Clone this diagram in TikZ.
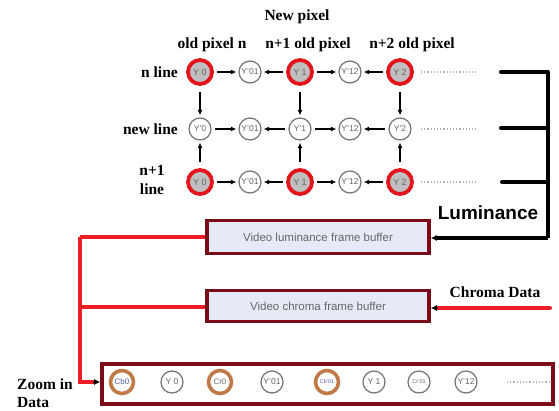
\documentclass[tikz,border=0pt]{standalone}
\usepackage{fontspec}
\setmainfont{Liberation Serif}
\setsansfont{Liberation Sans}
\usetikzlibrary{arrows.meta}
\definecolor{ringred}{HTML}{E3141B}
\definecolor{boxred}{HTML}{7A0C1A}
\definecolor{boxfill}{HTML}{E6EAF6}
\definecolor{ringbrown}{HTML}{C07A48}
\definecolor{wirered}{HTML}{EE1C24}
\begin{document}
\begin{tikzpicture}[x=1pt,y=-1pt,
  redc/.style={circle,minimum size=24pt,inner sep=0pt,draw=ringred,line width=3.8pt,fill=gray!50,text=gray!80!black,font=\sffamily\fontsize{9}{10}\selectfont},
  plainc/.style={circle,minimum size=22pt,inner sep=0pt,draw=gray!90!black,line width=1.2pt,fill=white,text=gray!80!black,font=\sffamily\fontsize{8.5}{9}\selectfont},
  brownc/.style={circle,minimum size=23pt,inner sep=0pt,draw=ringbrown,line width=3.6pt,fill=white,text=gray!70!blue,font=\sffamily\fontsize{8}{9}\selectfont},
  tinyc/.style={font=\sffamily\fontsize{5.5}{6}\selectfont},
  lab/.style={font=\bfseries\fontsize{15.5}{17}\selectfont,inner sep=0pt},
  buf/.style={draw=boxred,line width=3.6pt,fill=boxfill,minimum width=222pt,minimum height=33pt,inner sep=0pt,font=\sffamily\fontsize{11.5}{13}\selectfont,text=gray!80!black},
  garr/.style={draw=gray!65!black,line width=1.2pt,-{Latex[length=5.5pt,width=5pt]},color=black,shorten >=2pt,shorten <=3pt},
  dots/.style={draw=gray!60,line width=1.2pt,dotted},
  bk/.style={draw=black,line width=4pt},
  rw/.style={draw=wirered,line width=3.2pt}
]
\useasboundingbox (0,0) rectangle (559,410);

% labels
\node[lab] (np) at (297,17) {New pixel};
\node[lab] (op0) at (212,45) {old pixel n};
\node[lab] (op1) at (308,45) {n+1 old pixel};
\node[lab] (op2) at (412,45) {n+2 old pixel};
\node[lab,anchor=east] (l1) at (178,72) {n line};
\node[lab,anchor=east] (l2) at (178,129) {new line};
\node[lab,align=center,font=\bfseries\fontsize{15.5}{19}\selectfont] (l3) at (152,180) {n+1\\line};

% grid
\foreach \r/\y in {a/72,c/182} {
  \node[redc] (\r0) at (200,\y) {Y 0};
  \node[plainc] (\r1) at (250,\y) {Y'01};
  \node[redc] (\r2) at (300,\y) {Y 1};
  \node[plainc] (\r3) at (350,\y) {Y'12};
  \node[redc] (\r4) at (400,\y) {Y 2};
}
\node[plainc] (b0) at (200,129) {Y'0};
\node[plainc] (b1) at (250,129) {Y'01};
\node[plainc] (b2) at (300,129) {Y'1};
\node[plainc] (b3) at (350,129) {Y'12};
\node[plainc] (b4) at (400,129) {Y'2};

\foreach \r in {a,b,c} {
  \draw[garr] (\r0) -- (\r1);
  \draw[garr] (\r2) -- (\r1);
  \draw[garr] (\r2) -- (\r3);
  \draw[garr] (\r4) -- (\r3);
}
\foreach \i in {0,2,4} {
  \draw[garr,shorten <=6pt] (a\i) -- (b\i);
  \draw[garr,shorten <=6pt] (c\i) -- (b\i);
}

% dotted continuations
\coordinate (da1) at (421,72); \coordinate (da2) at (476,72);
\coordinate (db1) at (421,129); \coordinate (db2) at (476,129);
\coordinate (dc1) at (421,182); \coordinate (dc2) at (476,182);
\draw[dots] (da1) -- (da2);
\draw[dots] (db1) -- (db2);
\draw[dots] (dc1) -- (dc2);

% buffers
\node[buf] (lum) at (318,237) {Video luminance frame buffer};
\node[buf,minimum height=31pt] (chr) at (318,306) {Video chroma frame buffer};

% black bracket
\coordinate (k1) at (501,72);
\coordinate (k2) at (501,128);
\coordinate (k3) at (502,182);
\coordinate (kv1) at (548,72);
\coordinate (kv2) at (548,128);
\coordinate (kv3) at (548,182);
\coordinate (kb) at (548,238);
\draw[bk,line cap=round] (k1) -- (kv1);
\draw[bk,line cap=round] (k2) -- (kv2);
\draw[bk,line cap=round] (k3) -- (kv3);
\draw[bk] (kv1) -- (kb);
\draw[bk,-{Latex[length=6pt,width=6pt]}] (kb) -- (lum.east |- kb);
\node[font=\sffamily\bfseries\fontsize{19}{21}\selectfont,inner sep=0pt] (lumlab) at (488,213) {Luminance};

% chroma input
\coordinate (cin) at (550,308);
\draw[draw=wirered,line width=4pt,line cap=round] (cin) -- ([xshift=6pt]chr.east |- cin);
\draw[draw=black,line width=1pt,-{Latex[length=6pt,width=6pt]}] ([xshift=7pt]chr.east |- cin) -- (chr.east |- cin);
\node[lab] (chlab) at (495,292) {Chroma Data};

% bottom strip
\node[draw=boxred,line width=3.6pt,minimum width=451pt,minimum height=40pt,inner sep=0pt] (strip) at (327.5,384) {};
\node[brownc] (s0) at (122,382) {Cb0};
\node[plainc] (s1) at (172,382) {Y 0};
\node[brownc,text=gray!85!black] (s2) at (220,382) {Cr0};
\node[plainc] (s3) at (272,382) {Y'01};
\node[brownc,tinyc] (s4) at (327,382) {Cb'01};
\node[plainc] (s5) at (374,382) {Y 1};
\node[plainc,tinyc] (s6) at (419,382) {Cr'01};
\node[plainc] (s7) at (466,382) {Y'12};
\coordinate (sd1) at (507,382); \coordinate (sd2) at (549,382);
\draw[dots] (sd1) -- (sd2);

% red wiring
\coordinate (w1) at (80,237);
\coordinate (w2) at (80,307);
\coordinate (w3) at (80,382);
\draw[rw] (lum.west) -- (w1);
\draw[rw] (chr.west |- w2) -- (w2);
\draw[rw,line join=miter] (w1) -- (w3) -- ([xshift=-6pt]strip.west |- w3);
\draw[black,line width=1pt,-{Latex[length=6pt,width=6pt]}] ([xshift=-7pt]strip.west |- w3) -- (strip.west |- w3);

\node[lab,anchor=base west] (zl1) at (17,389) {Zoom in};
\node[lab,anchor=base west] (zl2) at (17,407) {Data};
\end{tikzpicture}
\end{document}
